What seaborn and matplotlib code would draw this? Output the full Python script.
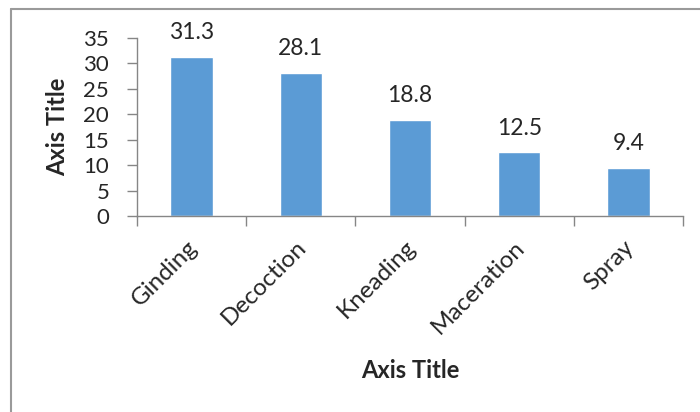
import matplotlib
matplotlib.use("Agg")
import matplotlib.pyplot as plt
import matplotlib.transforms as mtransforms
import seaborn as sns
import pandas as pd
from matplotlib.lines import Line2D

categories = ["Ginding", "Decoction", "Kneading", "Maceration", "Spray"]
values = [31.3, 28.1, 18.8, 12.5, 9.4]
y_ticks = [0, 5, 10, 15, 20, 25, 30, 35]

sns.set_theme(style="white")
plt.rcParams["font.family"] = ["Lato", "DejaVu Sans"]

df = pd.DataFrame({"cat": categories, "val": values})

fig = plt.figure(figsize=(7.0, 4.12), dpi=100)
ax = fig.add_axes([137/700, 1 - 216/412, (683-137)/700, (216-38)/412])

sns.barplot(data=df, x="cat", y="val", color="#5B9BD5", width=0.39,
            saturation=1, ax=ax)

ax.set_ylim(0, 35)
ax.set_xlim(-0.5, len(categories) - 0.5)
ax.set_yticks(y_ticks)
ax.set_yticklabels([str(t) for t in y_ticks], fontsize=16)
ax.tick_params(axis="y", length=7, width=1, color="#868686", pad=13, direction="out", left=True)
ax.set_xticks(range(len(categories)))
ax.set_xticklabels(categories, fontsize=17.5, rotation=45, ha="right", va="center",
                   rotation_mode="anchor")
ax.tick_params(axis="x", length=0, pad=20)
offset = mtransforms.ScaledTranslation(2/100, 0, fig.dpi_scale_trans)
for lab in ax.get_xticklabels():
    lab.set_transform(lab.get_transform() + offset)
# category boundary ticks
ax.set_xticks([i - 0.5 for i in range(len(categories) + 1)], minor=True)
ax.tick_params(axis="x", which="minor", length=7, width=1, color="#868686", direction="out", bottom=True)

for s in ["top", "right"]:
    ax.spines[s].set_visible(False)
for s in ["left", "bottom"]:
    ax.spines[s].set_color("#868686")
    ax.spines[s].set_linewidth(1)

for i, v in enumerate(values):
    ax.annotate(f"{v}", (i, v), xytext=(0, 10), textcoords="offset points",
                ha="center", va="bottom", fontsize=16.5)

ax.set_xlabel("Axis Title", fontsize=17, fontweight="bold")
ax.xaxis.set_label_coords(0.5, (216 - 370) / 178)
ax.xaxis.label.set_va("center")
ax.set_ylabel("Axis Title", fontsize=17, fontweight="bold", labelpad=10)

# chart area border (top and left visible)
fig.add_artist(Line2D([10.5/700, 1], [1 - 8.5/412, 1 - 8.5/412],
                      transform=fig.transFigure, color="#9a9a9a", lw=1.5))
fig.add_artist(Line2D([10.5/700, 10.5/700], [0, 1 - 8.5/412],
                      transform=fig.transFigure, color="#9a9a9a", lw=1.5))

fig.savefig("out.png", dpi=100)
